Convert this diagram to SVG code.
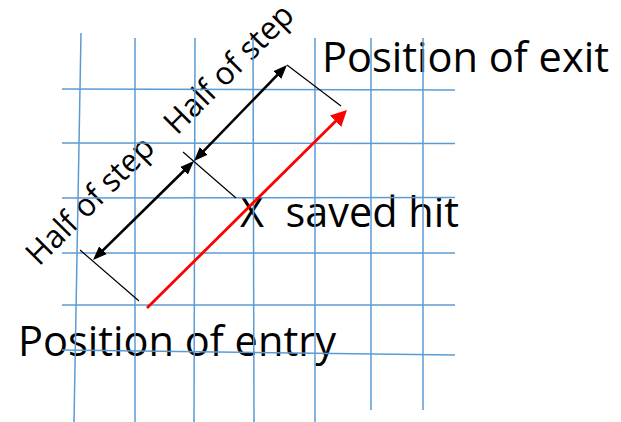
<svg xmlns="http://www.w3.org/2000/svg" width="621" height="422" viewBox="0 0 621 422">
<style>
.lbl{font-family:"Open Sans","Liberation Sans",sans-serif;fill:#000;}
.big{font-size:42px;}
.rot{font-size:32px;}
.grid line{stroke:#5B9BD5;stroke-width:1.5;}
.ext{stroke:#000;stroke-width:1.2;fill:none;}
.dim{stroke:#000;stroke-width:2.6;fill:none;marker-start:url(#ah);marker-end:url(#ah);}
.red{stroke:#FF0000;stroke-width:2.8;fill:none;marker-end:url(#rh);}
</style>
<defs>
<marker id="ah" markerUnits="userSpaceOnUse" markerWidth="14" markerHeight="12" refX="10" refY="5.5" orient="auto-start-reverse" viewBox="0 0 14 11">
<path d="M0,0 L14,5.5 L0,11 z" fill="#000"/>
</marker>
<marker id="rh" markerUnits="userSpaceOnUse" markerWidth="16" markerHeight="16" refX="11" refY="8" orient="auto" viewBox="0 0 16 16">
<path d="M0,0 L16,8 L0,16 z" fill="#FF0000"/>
</marker>
</defs>
<rect width="621" height="422" fill="#fff"/>

<g id="label-exit"><text class="lbl big" x="322" y="72" textLength="287" lengthAdjust="spacingAndGlyphs">Position of exit</text></g>
<g id="label-entry"><text class="lbl big" x="18" y="356" textLength="318" lengthAdjust="spacingAndGlyphs">Position of entry</text></g>
<g id="label-hit"><text class="lbl big" x="240" y="227" textLength="219" lengthAdjust="spacingAndGlyphs" xml:space="preserve">X  saved hit</text></g>
<g id="label-half-upper"><text class="lbl rot" transform="translate(177,136) rotate(-45)" x="0" y="0" textLength="168" lengthAdjust="spacingAndGlyphs">Half of step</text></g>
<g id="label-half-lower"><text class="lbl rot" transform="translate(39,267) rotate(-45)" x="0" y="0" textLength="166" lengthAdjust="spacingAndGlyphs">Half of step</text></g>

<g id="grid" class="grid">
<line x1="62" y1="89" x2="455" y2="90"/>
<line x1="62" y1="143" x2="455" y2="143.5"/>
<line x1="62" y1="198" x2="455" y2="197.5"/>
<line x1="62" y1="253" x2="455" y2="253"/>
<line x1="62" y1="305" x2="455" y2="305"/>
<line x1="62" y1="350" x2="455" y2="355"/>
<line x1="81" y1="33" x2="74" y2="422"/>
<line x1="135" y1="38" x2="135" y2="422"/>
<line x1="195" y1="38" x2="194" y2="422"/>
<line x1="253" y1="38" x2="254" y2="422"/>
<line x1="315" y1="38" x2="315" y2="422"/>
<line x1="371" y1="38" x2="371" y2="410"/>
<line x1="423" y1="38" x2="423" y2="410"/>
</g>

<g id="connectors">
<line class="ext" x1="287" y1="65" x2="341" y2="106"/>
<line class="ext" x1="183" y1="152" x2="236" y2="198"/>
<line class="ext" x1="80" y1="250" x2="139" y2="301"/>
<line class="dim" x1="196.8" y1="158.1" x2="284.2" y2="67.9"/>
<line class="dim" x1="95.9" y1="257.2" x2="191.1" y2="163.8"/>
<line class="red" x1="147" y1="308" x2="343.4" y2="113.5"/>
</g>
</svg>
